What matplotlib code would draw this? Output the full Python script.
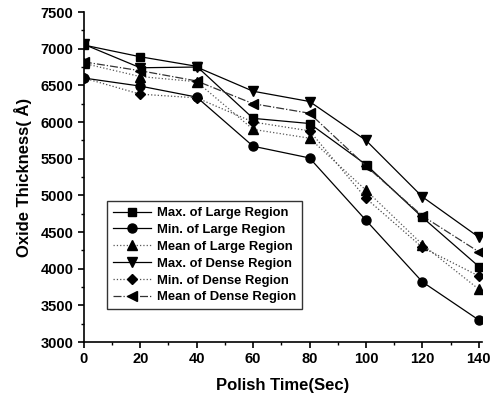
import matplotlib
matplotlib.use('Agg')
import matplotlib.pyplot as plt
from matplotlib.ticker import MultipleLocator

# polish time (sec)
time = [0, 20, 40, 60, 80, 100, 120, 140]

max_large  = [7050, 6890, 6760, 6050, 5980, 5420, 4700, 4030]
min_large  = [6600, 6490, 6340, 5670, 5510, 4660, 3820, 3300]
mean_large = [6800, 6620, 6550, 5900, 5780, 5070, 4330, 3720]
max_dense  = [7060, 6740, 6750, 6420, 6280, 5750, 4980, 4430]
min_dense  = [6600, 6380, 6330, 6000, 5880, 4960, 4290, 3900]
mean_dense = [6820, 6700, 6560, 6250, 6120, 5400, 4720, 4230]

labels = ["Max. of Large Region", "Min. of Large Region", "Mean of Large Region",
          "Max. of Dense Region", "Min. of Dense Region", "Mean of Dense Region"]

plt.rcParams['font.family'] = ['Liberation Sans', 'DejaVu Sans']
plt.rcParams['font.weight'] = 'bold'

fig = plt.figure(figsize=(4.93, 4.01), dpi=100)
ax = fig.add_axes([0.170, 0.147, 0.807, 0.823])

series = [max_large, min_large, mean_large, max_dense, min_dense, mean_dense]
markers = ['s', 'o', '^', 'v', 'D', '<']
styles = ['-', '-', ':', '-', ':', '-.']
colors = ['black', 'black', '0.35', 'black', '0.3', '0.2']
msizes = [6, 6.5, 6.5, 7, 5, 7]

for ys, m, ls, c, ms, lab in zip(series, markers, styles, colors, msizes, labels):
    ax.plot(time, ys, linestyle=ls, color=c, linewidth=0.9,
            marker=m, markersize=ms, markerfacecolor='black',
            markeredgecolor='black', label=lab)

ax.set_xlim(0, 141)
ax.set_ylim(3000, 7500)
ax.xaxis.set_major_locator(MultipleLocator(20))
ax.xaxis.set_minor_locator(MultipleLocator(10))
ax.yaxis.set_major_locator(MultipleLocator(500))
ax.yaxis.set_minor_locator(MultipleLocator(250))

ax.spines['top'].set_visible(False)
ax.spines['right'].set_visible(False)
ax.spines['left'].set_linewidth(1.2)
ax.spines['bottom'].set_linewidth(1.2)
ax.tick_params(which='major', direction='out', length=4, width=1.2, labelsize=10.5)
ax.tick_params(which='minor', direction='out', length=2.5, width=1)
for t in ax.get_xticklabels() + ax.get_yticklabels():
    t.set_fontweight('bold')

ax.set_xlabel("Polish Time(Sec)", fontsize=12, fontweight='bold', labelpad=8)
ax.set_ylabel("Oxide Thickness( Å)", fontsize=12, fontweight='bold', labelpad=6)

leg = ax.legend(loc='upper left', bbox_to_anchor=(0.058, 0.427), borderaxespad=0,
                fontsize=9.4, frameon=True, fancybox=False, edgecolor='black',
                handlelength=2.9, labelspacing=0.36, borderpad=0.45,
                handletextpad=0.5)
leg.get_frame().set_linewidth(1.0)
for t in leg.get_texts():
    t.set_fontweight('bold')

plt.savefig("out.png", dpi=100)
